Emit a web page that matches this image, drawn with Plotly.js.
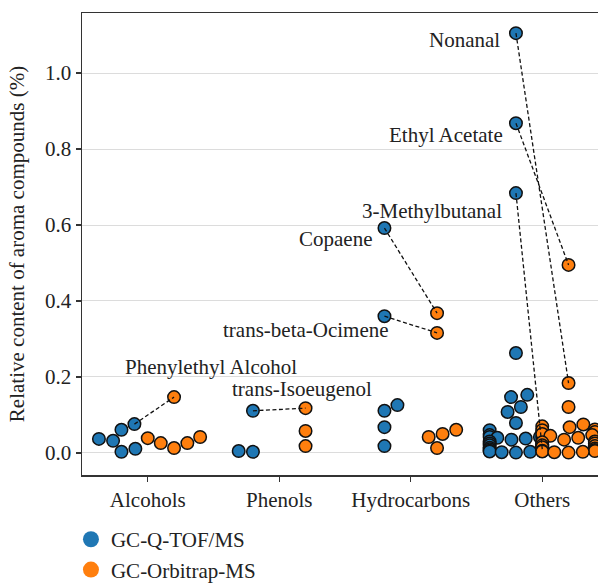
<!DOCTYPE html>
<html><head><meta charset="utf-8">
<script src="https://cdn.plot.ly/plotly-3.0.1.min.js"></script>
<style>html,body{margin:0;padding:0;overflow:hidden;background:#fff}</style>
</head><body><div id="chart"></div>
<script>
// ---------------- data ----------------
const categories = ["Alcohols", "Phenols", "Hydrocarbons", "Others"];
const seriesNames = ["GC-Q-TOF/MS", "GC-Orbitrap-MS"];

const qtofAlcohols = [0.076, 0.061, 0.037, 0.032, 0.003, 0.011];
const orbiAlcohols = [0.147, 0.039, 0.026, 0.013, 0.026, 0.042];
const qtofPhenols = [0.111, 0.005, 0.003];
const orbiPhenols = [0.118, 0.058, 0.018];
const qtofHydrocarbons = [0.592, 0.360, 0.126, 0.111, 0.068, 0.018];
const orbiHydrocarbons = [0.368, 0.316, 0.061, 0.050, 0.042, 0.013];
const qtofOthers = [1.105, 0.868, 0.684, 0.263, 0.153, 0.147, 0.121, 0.108, 0.079, 0.060,
  0.055, 0.047, 0.042, 0.042, 0.042, 0.040, 0.038, 0.035, 0.030, 0.028, 0.025, 0.022, 0.020,
  0.016, 0.014, 0.012, 0.010, 0.008, 0.006, 0.005, 0.005, 0.004, 0.003, 0.002, 0.001];
const orbiOthers = [0.495, 0.184, 0.010, 0.121, 0.075, 0.070, 0.068, 0.062, 0.060, 0.055,
  0.050, 0.047, 0.045, 0.040, 0.035, 0.030, 0.028, 0.025, 0.020, 0.018, 0.015, 0.012,
  0.008, 0.006, 0.005, 0.004, 0.003, 0.002, 0.001];

// labelled compounds: category, index in the Q-TOF array, index in the Orbitrap array
const compoundNames = ["Phenylethyl Alcohol", "trans-Isoeugenol", "Copaene", "trans-beta-Ocimene",
  "Nonanal", "Ethyl Acetate", "3-Methylbutanal"];
const compoundCategory = [0, 1, 2, 2, 3, 3, 3];
const compoundQtofIndex = [0, 0, 0, 1, 0, 1, 2];
const compoundOrbiIndex = [0, 0, 0, 1, 1, 0, 2];

const qtofValues = [qtofAlcohols, qtofPhenols, qtofHydrocarbons, qtofOthers];
const orbiValues = [orbiAlcohols, orbiPhenols, orbiHydrocarbons, orbiOthers];

// ---------------- style / layout ----------------
const FONT = "Liberation Serif, Times New Roman, serif";
const FS = 21;
const BLUE = "#1f77b4", ORANGE = "#ff7f0e";
const W = 610, H = 584;
const M = {l: 82, r: 2, t: 13, b: 109};
const XR = [-0.5, 3.5], YR = [-0.058, 1.158];
const plotW = W - M.l - M.r, plotH = H - M.t - M.b;
const xs = plotW / (XR[1] - XR[0]);   // px per x unit
const ys = plotH / (YR[1] - YR[0]);   // px per y unit
const R = 6.8;                         // swarm radius in px
const DODGE = 0.2, HALF = 0.2;
// which side wins when two swarm slots are equally close to the centre line
const tieRightQtof = [true, false, true, false];
const tieRightOrbi = [false, false, false, false];

// seaborn-like beeswarm in pixel space
function swarm(values, center, tieRight) {
  const mid = center * xs;
  const order = values.map((v, i) => i).sort((a, b) => values[a] - values[b]);
  const placed = [];
  const out = new Array(values.length);
  order.forEach((idx, k) => {
    const yi = values[idx] * ys;
    let pos;
    if (k === 0) pos = mid;
    else {
      const nb = [];
      for (let j = placed.length - 1; j >= 0; j--) {
        if (yi - placed[j].y < 2 * R) nb.unshift(placed[j]); else break;
      }
      const cands = [mid];
      let leftFirst = !tieRight;
      nb.forEach(p => {
        const dy = yi - p.y;
        const dx = Math.sqrt(Math.max(4 * R * R - dy * dy, 0)) * 1.05;
        const cl = p.x - dx, cr = p.x + dx;
        if (leftFirst) cands.push(cl, cr); else cands.push(cr, cl);
        leftFirst = !leftFirst;
      });
      const sorted = cands.map((c, i) => [c, i]).sort((a, b) => {
        const d = Math.abs(a[0] - mid) - Math.abs(b[0] - mid);
        return Math.abs(d) < 1e-9 ? a[1] - b[1] : d;
      });
      pos = sorted[sorted.length - 1][0];
      for (const [c] of sorted) {
        const ok = nb.every(p => (p.x - c) ** 2 + (p.y - yi) ** 2 >= 4 * R * R - 1e-9);
        if (ok) { pos = c; break; }
      }
    }
    placed.push({x: pos, y: yi});
    out[idx] = pos;
  });
  const lo = (center - HALF) * xs, hi = (center + HALF) * xs;
  return out.map(p => Math.min(Math.max(p, lo), hi) / xs);
}

const traces = [];
const qtofX = [], orbiX = [];
const allQX = [], allQY = [], allOX = [], allOY = [];
categories.forEach((c, ci) => {
  const qx = swarm(qtofValues[ci], ci - DODGE, tieRightQtof[ci]);
  const ox = swarm(orbiValues[ci], ci + DODGE, tieRightOrbi[ci]);
  qtofX.push(qx); orbiX.push(ox);
  allQX.push(...qx); allQY.push(...qtofValues[ci]);
  allOX.push(...ox); allOY.push(...orbiValues[ci]);
});

const mk = (color) => ({size: 12.5, color: color, line: {color: "#111", width: 1.5}});
traces.push({type: "scatter", mode: "markers", x: allQX, y: allQY, marker: mk(BLUE),
  showlegend: false, hoverinfo: "y", cliponaxis: true});
traces.push({type: "scatter", mode: "markers", x: allOX, y: allOY, marker: mk(ORANGE),
  showlegend: false, hoverinfo: "y", cliponaxis: true});

// dashed connectors
compoundNames.forEach((n, k) => {
  const ci = compoundCategory[k], qi = compoundQtofIndex[k], oi = compoundOrbiIndex[k];
  traces.push({type: "scatter", mode: "lines",
    x: [qtofX[ci][qi], orbiX[ci][oi]],
    y: [qtofValues[ci][qi], orbiValues[ci][oi]],
    line: {color: "#111", width: 1.3, dash: "4px,2.5px"},
    showlegend: false, hoverinfo: "skip"});
});

// legend-only traces
traces.push({type: "scatter", mode: "markers", x: [null], y: [null], name: seriesNames[0],
  marker: {size: 17, color: BLUE, line: {width: 0}}});
traces.push({type: "scatter", mode: "markers", x: [null], y: [null], name: seriesNames[1],
  marker: {size: 17, color: ORANGE, line: {width: 0}}});

// label placement: anchor on the q-tof (0) or orbitrap (1) point, shift in px
const labelAnchorSeries = [1, 1, 0, 0, 0, 0, 0];
const labelXAnchor = ["center", "center", "right", "right", "right", "right", "right"];
const labelShift = [[37, 30], [-4, 19], [-10, -11], [7, -14], [-14, -7], [-11, -12], [-12, -18]];
const annotations = compoundNames.map((n, k) => {
  const ci = compoundCategory[k];
  const s = labelAnchorSeries[k];
  const x = s === 0 ? qtofX[ci][compoundQtofIndex[k]] : orbiX[ci][compoundOrbiIndex[k]];
  const y = s === 0 ? qtofValues[ci][compoundQtofIndex[k]] : orbiValues[ci][compoundOrbiIndex[k]];
  return {x: x, y: y, xref: "x", yref: "y", text: n, showarrow: false,
    xanchor: labelXAnchor[k], yanchor: "middle",
    xshift: labelShift[k][0], yshift: labelShift[k][1],
    font: {family: FONT, size: FS, color: "#222"}};
});

const axisCommon = {
  showline: true, mirror: true, linecolor: "#333", linewidth: 1.5,
  ticks: "outside", ticklen: 5, tickwidth: 1.2, tickcolor: "#333",
  tickfont: {family: FONT, size: FS, color: "#222"}, zeroline: false
};

const layout = {
  width: W, height: H,
  margin: {l: M.l, r: M.r, t: M.t, b: M.b, autoexpand: false},
  paper_bgcolor: "#fff", plot_bgcolor: "#fff",
  font: {family: FONT, size: FS, color: "#222"},
  xaxis: Object.assign({}, axisCommon, {
    range: XR, tickvals: [0, 1, 2, 3], ticktext: categories, showgrid: false
  }),
  yaxis: Object.assign({}, axisCommon, {
    range: YR, tickvals: [0, 0.2, 0.4, 0.6, 0.8, 1.0], tickformat: ".1f",
    showgrid: true, gridcolor: "#dcdcdc", gridwidth: 1,
    title: {text: "Relative content of aroma compounds (%)", font: {family: FONT, size: FS, color: "#222"}, standoff: 14}
  }),
  legend: {x: -0.021, y: -0.0955, xanchor: "left", yanchor: "top", orientation: "v",
    font: {family: FONT, size: FS, color: "#222"}, bgcolor: "rgba(0,0,0,0)"},
  annotations: annotations,
  showlegend: true
};

Plotly.newPlot("chart", traces, layout, {displayModeBar: false, staticPlot: true});
</script>
</body></html>
